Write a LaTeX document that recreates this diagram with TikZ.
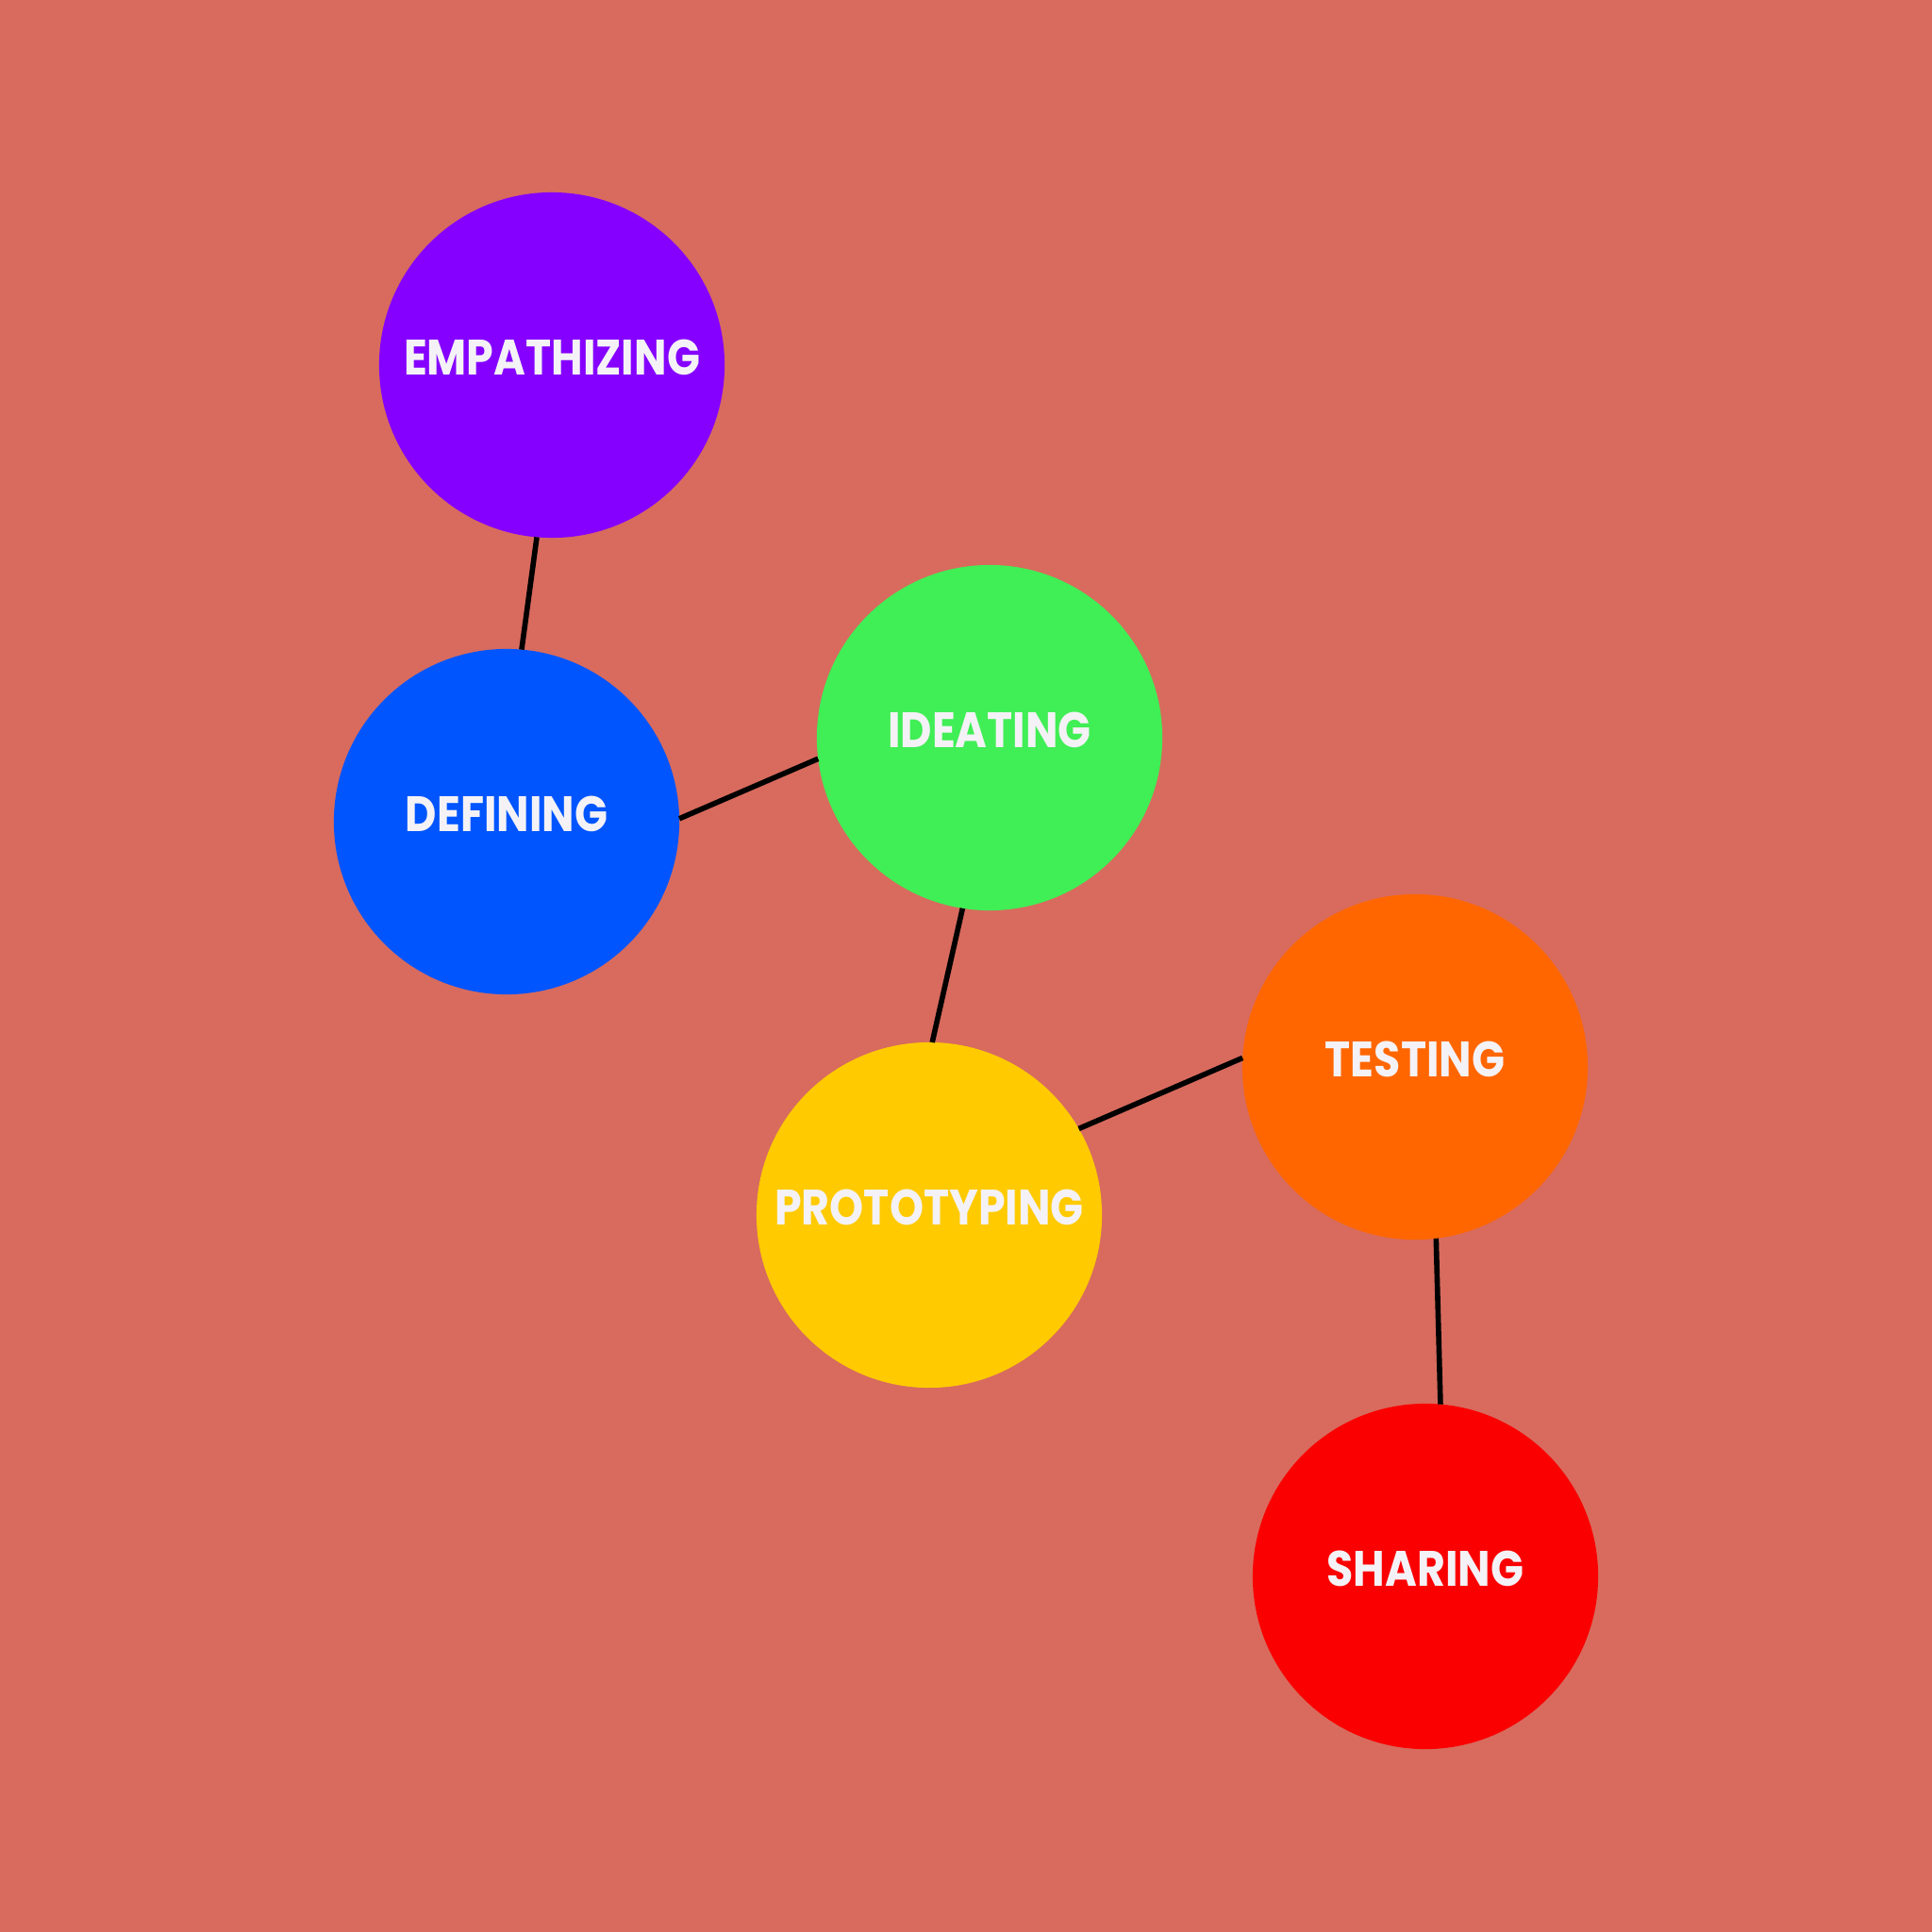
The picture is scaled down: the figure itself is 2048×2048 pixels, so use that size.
\documentclass[tikz,border=0pt]{standalone}
\usepackage{fontspec}
\newfontfamily\labfont{Poppins}[FakeStretch=0.87]
\definecolor{bg}{HTML}{D86B5E}
\definecolor{cemp}{HTML}{8500FF}
\definecolor{cdef}{HTML}{0055FF}
\definecolor{cide}{HTML}{40EE55}
\definecolor{cpro}{HTML}{FFCA00}
\definecolor{ctes}{HTML}{FF6600}
\definecolor{csha}{HTML}{FA0000}
\definecolor{txt}{HTML}{F4F2F6}
\begin{document}
\begin{tikzpicture}[x=0.01cm,y=-0.01cm,
  phase/.style={circle,minimum size=3.66cm,inner sep=0pt,outer sep=0pt,fill=#1,
    label={[text=txt,font=\labfont\bfseries\fontsize{15}{18}\selectfont,yshift=0.08cm]center:\phasetext}},
  link/.style={draw=black,line width=1.6pt}]
\fill[bg] (0,0) rectangle (2048,2048);
\useasboundingbox (0,0) rectangle (2048,2048);
\def\phasetext{EMPATHIZING}
\node[phase=cemp] (emp) at (585,387) {};
\def\phasetext{DEFINING}
\node[phase=cdef] (def) at (537,871) {};
\def\phasetext{IDEATING}
\node[phase=cide] (ide) at (1049,782) {};
\def\phasetext{PROTOTYPING}
\node[phase=cpro] (pro) at (985,1288) {};
\def\phasetext{TESTING}
\node[phase=ctes] (tes) at (1500,1131) {};
\def\phasetext{SHARING}
\node[phase=csha] (sha) at (1511,1671) {};
\draw[link] (emp.265) -- (def.85);
\draw[link] (def.1) -- (ide.187);
\draw[link] (ide.261) -- (pro.89);
\draw[link] (pro.30) -- (tes.177);
\draw[link] (tes.277) -- (sha.85);
\end{tikzpicture}
\end{document}
